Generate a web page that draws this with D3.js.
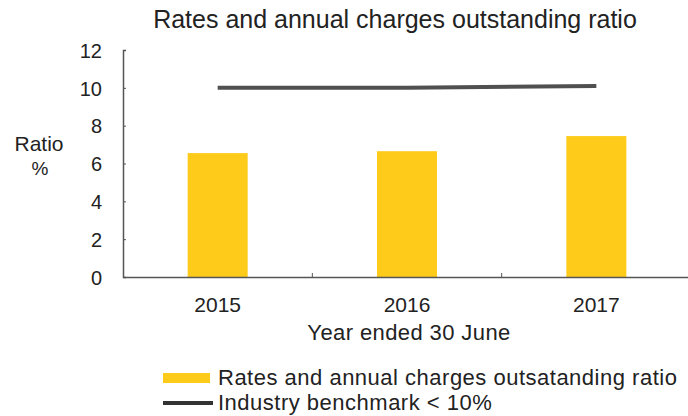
<!DOCTYPE html>
<html>
<head>
<meta charset="utf-8">
<script src="https://cdn.jsdelivr.net/npm/d3@7"></script>
<style>
  body { margin: 0; background: #fff; }
  text { font-family: "Liberation Sans", Arial, sans-serif; fill: #222; }
</style>
</head>
<body>
<svg id="chart"></svg>
<script>
// chart data
const years = ["2015", "2016", "2017"];
const ratioValues = [6.55, 6.65, 7.45];
const benchmarkValues = [10, 10, 10.1];
const yTicks = [0, 2, 4, 6, 8, 10, 12];

const WIDTH = 688;
const HEIGHT = 416;
const PADDING = { LEFT: 123, RIGHT: -3, TOP: 50, BOTTOM: 139 };

let svg = d3.select("#chart")
  .attr("width", WIDTH)
  .attr("height", HEIGHT);

let xScale = d3.scaleBand()
  .domain(years)
  .range([PADDING.LEFT, WIDTH - PADDING.RIGHT])
  .paddingInner(0.683)
  .paddingOuter(0.3415);

let yScale = d3.scaleLinear()
  .domain([0, 12])
  .range([HEIGHT - PADDING.BOTTOM, PADDING.TOP]);

// title
svg.append("text")
  .attr("x", 395)
  .attr("y", 28)
  .style("text-anchor", "middle")
  .style("font-size", "25px")
  .text("Rates and annual charges outstanding ratio");

// bars
svg.selectAll("rect.bar")
  .data(ratioValues)
  .enter()
  .append("rect")
    .attr("class", "bar")
    .attr("x", (d, i) => xScale(years[i]))
    .attr("y", d => yScale(d))
    .attr("width", xScale.bandwidth())
    .attr("height", d => yScale(0) - yScale(d))
    .attr("fill", "#FECB1B");

// benchmark line
let line = d3.line()
  .x((d, i) => xScale(years[i]) + xScale.bandwidth() / 2)
  .y(d => yScale(d));

svg.append("path")
  .datum(benchmarkValues)
  .attr("d", line)
  .attr("fill", "none")
  .attr("stroke", "#505050")
  .attr("stroke-width", 4);

// y axis
let yAxis = svg.append("g")
  .attr("transform", `translate(${PADDING.LEFT},0)`)
  .call(d3.axisRight(yScale).tickValues(yTicks).tickSize(3).tickFormat(d3.format("d")));
yAxis.select(".domain").attr("stroke", "#555").attr("stroke-width", 1.5);
yAxis.selectAll(".tick line").attr("stroke", "#555");
yAxis.selectAll(".tick text")
  .attr("x", -21)
  .attr("dy", "0.36em")
  .style("text-anchor", "end")
  .style("font-size", "20px")
  .attr("fill", "#222");

// x axis
let xAxis = svg.append("g")
  .attr("transform", `translate(0,${yScale(0)})`)
  .call(d3.axisBottom(xScale).tickSize(0));
xAxis.select(".domain").attr("stroke", "#555").attr("stroke-width", 1.5);
xAxis.selectAll(".tick text")
  .attr("y", 35)
  .attr("dy", 0)
  .style("font-size", "21px")
  .attr("fill", "#222");

// small ticks between categories
svg.selectAll("line.sep")
  .data(years.slice(1))
  .enter()
  .append("line")
    .attr("class", "sep")
    .attr("x1", d => xScale(d) - xScale.step() * xScale.paddingInner() / 2)
    .attr("x2", d => xScale(d) - xScale.step() * xScale.paddingInner() / 2)
    .attr("y1", yScale(0))
    .attr("y2", yScale(0) - 4)
    .attr("stroke", "#555");

// axis titles
svg.append("text")
  .attr("x", 409)
  .attr("y", 340)
  .style("text-anchor", "middle")
  .style("font-size", "22px")
  .style("letter-spacing", "0.4px")
  .text("Year ended 30 June");

svg.append("text")
  .attr("x", 39)
  .attr("y", 151)
  .style("text-anchor", "middle")
  .style("font-size", "21px")
  .text("Ratio");

svg.append("text")
  .attr("x", 40)
  .attr("y", 175)
  .style("text-anchor", "middle")
  .style("font-size", "19px")
  .text("%");

// legend
svg.append("rect")
  .attr("x", 163)
  .attr("y", 373)
  .attr("width", 47)
  .attr("height", 10)
  .attr("fill", "#FECB1B");

svg.append("text")
  .attr("x", 218)
  .attr("y", 385)
  .style("font-size", "22px")
  .style("letter-spacing", "0.5px")
  .text("Rates and annual charges outsatanding ratio");

svg.append("line")
  .attr("x1", 163)
  .attr("x2", 213)
  .attr("y1", 403)
  .attr("y2", 403)
  .attr("stroke", "#333")
  .attr("stroke-width", 4);

svg.append("text")
  .attr("x", 218)
  .attr("y", 410)
  .style("font-size", "22px")
  .style("letter-spacing", "0.5px")
  .text("Industry benchmark < 10%");
</script>
</body>
</html>
